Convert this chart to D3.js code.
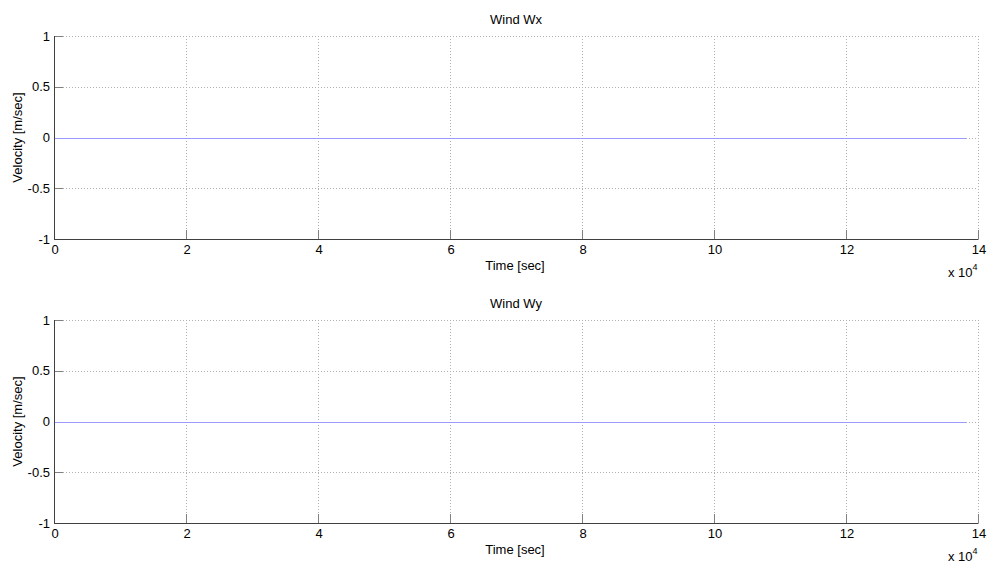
<!DOCTYPE html>
<html><head><meta charset="utf-8">
<script src="https://cdn.jsdelivr.net/npm/d3@7"></script>
<style>body{margin:0;background:#fff}svg{display:block}text{font-family:"Liberation Sans",Arial,sans-serif;fill:#000}</style>
</head><body><svg id="c" width="989" height="563"></svg>
<script>
const titles = ["Wind Wx", "Wind Wy"];
const timeSec = [0, 20000, 40000, 60000, 80000, 100000, 120000, 138200];
const windWx = [0, 0, 0, 0, 0, 0, 0, 0];
const windWy = [0, 0, 0, 0, 0, 0, 0, 0];
const xTicks = [0, 20000, 40000, 60000, 80000, 100000, 120000, 140000];
const xTickLabels = ["0", "2", "4", "6", "8", "10", "12", "14"];
const yTicks = [-1, -0.5, 0, 0.5, 1];
const yTickLabels = ["-1", "-0.5", "0", "0.5", "1"];
const series = [windWx, windWy];

const svg = d3.select("#c");
const left = 54, right = 978;
const panels = [{top: 36, bottom: 239}, {top: 320, bottom: 523}];

panels.forEach((p, i) => {
  const x = d3.scaleLinear().domain([0, 140000]).range([left, right]);
  const y = d3.scaleLinear().domain([-1, 1]).range([p.bottom, p.top]);
  const g = svg.append("g");
  // grid
  g.selectAll(".gx").data(xTicks.slice(1)).enter().append("line")
    .attr("x1", d => x(d) + 0.5).attr("x2", d => x(d) + 0.5)
    .attr("y1", p.top).attr("y2", p.bottom)
    .attr("stroke", "#b0b0b0").attr("stroke-dasharray", "1,2");
  g.selectAll(".gy").data(yTicks.slice(1)).enter().append("line")
    .attr("x1", left).attr("x2", right)
    .attr("y1", d => Math.round(y(d)) + 0.5).attr("y2", d => Math.round(y(d)) + 0.5)
    .attr("stroke", "#b0b0b0").attr("stroke-dasharray", "1,2");
  // ticks
  g.selectAll(".tx").data(xTicks).enter().append("line")
    .attr("x1", d => x(d) + 0.5).attr("x2", d => x(d) + 0.5)
    .attr("y1", p.bottom).attr("y2", p.bottom - 9)
    .attr("stroke", "#808080");
  g.selectAll(".ty").data(yTicks).enter().append("line")
    .attr("x1", left).attr("x2", left + 9)
    .attr("y1", d => Math.round(y(d)) + 0.5).attr("y2", d => Math.round(y(d)) + 0.5)
    .attr("stroke", "#808080");
  // data line
  const line = d3.line().x((d, k) => x(timeSec[k])).y(d => Math.round(y(d)) + 0.5);
  g.append("path").datum(series[i]).attr("d", line)
    .attr("fill", "none").attr("stroke", "#9a9aff").attr("stroke-width", 1);
  // axes lines
  g.append("line").attr("x1", left + 0.5).attr("x2", left + 0.5).attr("y1", p.top).attr("y2", p.bottom + 0.5)
    .attr("stroke", "#404040");
  g.append("line").attr("x1", left).attr("x2", right + 0.5).attr("y1", p.bottom + 0.5).attr("y2", p.bottom + 0.5)
    .attr("stroke", "#404040");
  // tick labels
  g.selectAll(".lx").data(xTicks).enter().append("text")
    .attr("x", d => x(d) + 1).attr("y", p.bottom + 15)
    .attr("text-anchor", "middle").attr("font-size", 13)
    .text((d, k) => xTickLabels[k]);
  g.selectAll(".ly").data(yTicks).enter().append("text")
    .attr("x", left - 4).attr("y", d => y(d) + 4.5)
    .attr("text-anchor", "end").attr("font-size", 13)
    .text((d, k) => yTickLabels[k]);
  // title
  g.append("text").attr("x", 516).attr("y", p.top - 12).attr("text-anchor", "middle")
    .attr("font-size", 13).text(titles[i]);
  // xlabel
  g.append("text").attr("x", 515).attr("y", p.bottom + 31).attr("text-anchor", "middle")
    .attr("font-size", 13).text("Time [sec]");
  // ylabel
  g.append("text").attr("transform", `translate(22,${(p.top + p.bottom) / 2}) rotate(-90)`)
    .attr("text-anchor", "middle").attr("font-size", 13).text("Velocity [m/sec]");
  // exponent
  const ex = g.append("text").attr("x", 948).attr("y", p.bottom + 38).attr("font-size", 13);
  ex.append("tspan").text("x 10");
  ex.append("tspan").attr("font-size", 9).attr("dy", -7).text("4");
});
</script></body></html>
